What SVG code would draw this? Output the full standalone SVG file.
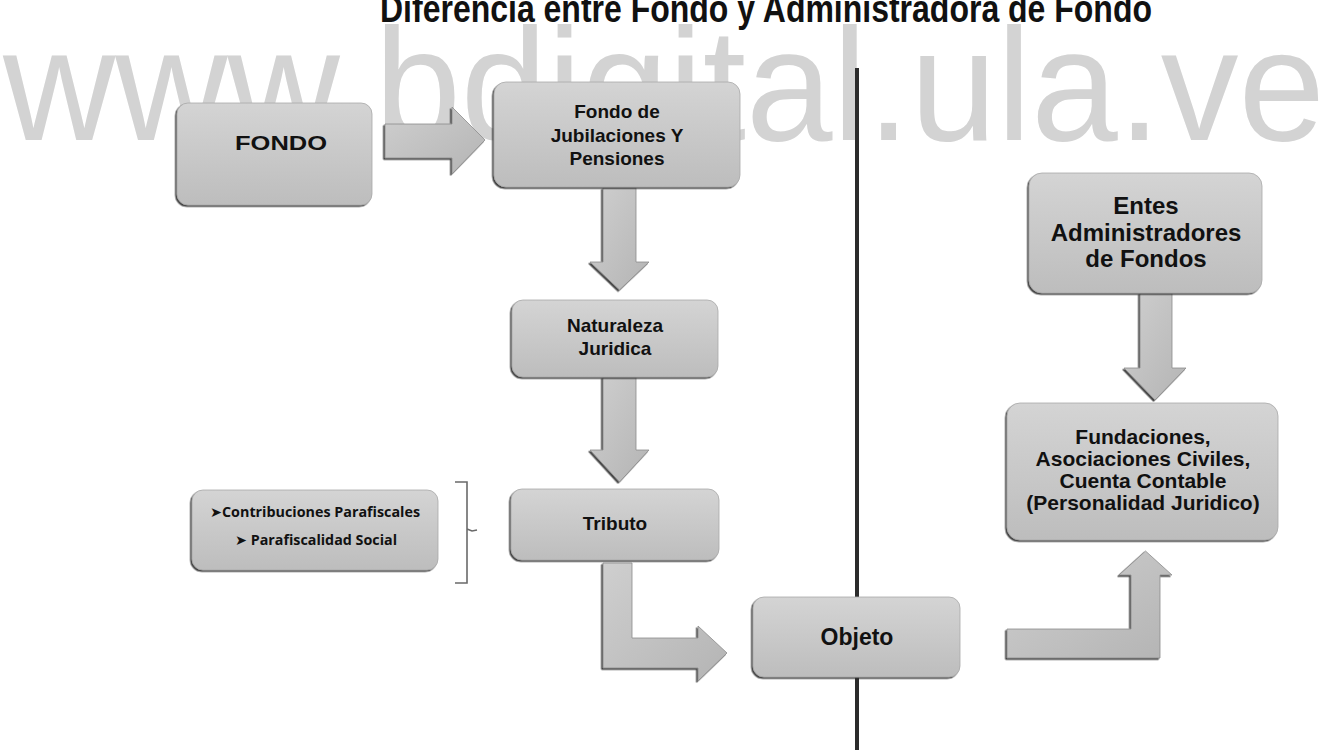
<svg xmlns="http://www.w3.org/2000/svg" width="1329" height="750" viewBox="0 0 1329 750">
<defs>
<linearGradient id="boxg" x1="0" y1="0" x2="0" y2="1">
<stop offset="0" stop-color="#d4d4d4"/>
<stop offset="1" stop-color="#bdbdbd"/>
</linearGradient>
<linearGradient id="arrg" x1="0" y1="0" x2="1" y2="1">
<stop offset="0" stop-color="#cfcfcf"/>
<stop offset="1" stop-color="#b4b4b4"/>
</linearGradient>
<filter id="edge" x="-5%" y="-5%" width="110%" height="115%">
<feDropShadow dx="-1.5" dy="1.5" stdDeviation="0.4" flood-color="#333" flood-opacity="0.9"/>
</filter>
</defs>
<style>
.box{fill:url(#boxg);stroke:#a8a8a8;stroke-width:0.8;filter:url(#edge)}
.arr{fill:url(#arrg);stroke:#8c8c8c;stroke-width:0.8;filter:url(#edge)}
.t{font-family:"Liberation Sans",Arial,sans-serif;font-weight:bold;fill:#111;text-anchor:middle}
.s{font-family:"Open Sans","DejaVu Sans",sans-serif;font-weight:bold;fill:#111;text-anchor:middle}
.wm{font-family:"Liberation Sans",Arial,sans-serif;fill:#d3d3d3}
.title{font-family:"Liberation Sans",Arial,sans-serif;font-weight:bold;fill:#111}
.brk{fill:none;stroke:#6a6a6a;stroke-width:1.6}
</style>
<rect width="1329" height="750" fill="#fff"/>
<text class="wm" x="3" y="140" font-size="160" textLength="1322" lengthAdjust="spacingAndGlyphs">www.bdigital.ula.ve</text>
<text class="title" x="380" y="22" font-size="38" textLength="772" lengthAdjust="spacingAndGlyphs">Diferencia entre Fondo y Administradora de Fondo</text>

<g id="connectors">
<line x1="857" y1="68" x2="857" y2="750" stroke="#2b2b2b" stroke-width="4"/>
<path class="arr" d="M385,124 L452,124 L452,107 L485,140 L452,174 L452,158 L385,158 Z"/>
<path class="arr" d="M603,188 L636,188 L636,262 L649,262 L619.5,290 L590,262 L603,262 Z"/>
<path class="arr" d="M603,377 L636,377 L636,450 L649,450 L619.5,482 L590,450 L603,450 Z"/>
<path class="arr" d="M603,563 L632,563 L632,638 L698,638 L698,626 L727,653 L698,681 L698,668 L603,668 Z"/>
<path class="arr" d="M1140,293 L1172,293 L1172,368 L1186,368 L1155,400 L1124,368 L1140,368 Z"/>
<path class="arr" d="M1007,629 L1131,629 L1131,575 L1119,575 L1145.5,551 L1172,575 L1160,575 L1160,658 L1007,658 Z"/>
<path class="brk" d="M455,482 L467,482 L467,583 L455,583 M467,529 L472,531 L477,530"/>
</g>

<g id="fondo">
<rect class="box" x="177" y="103" width="195" height="102" rx="11"/>
<text class="t" x="281" y="150" font-size="20" textLength="92" lengthAdjust="spacingAndGlyphs">FONDO</text>
</g>

<g id="fondo-jubilaciones">
<rect class="box" x="494" y="82" width="246" height="105" rx="12"/>
<text class="t" x="617" y="118" font-size="19">Fondo de</text>
<text class="t" x="617" y="142" font-size="19">Jubilaciones Y</text>
<text class="t" x="617" y="165" font-size="19">Pensiones</text>
</g>

<g id="naturaleza">
<rect class="box" x="512" y="300" width="206" height="77" rx="11"/>
<text class="t" x="615" y="332" font-size="19">Naturaleza</text>
<text class="t" x="615" y="355" font-size="19">Juridica</text>
</g>

<g id="tributo">
<rect class="box" x="511" y="489" width="208" height="71" rx="11"/>
<text class="t" x="615" y="530" font-size="19">Tributo</text>
</g>

<g id="contribuciones">
<rect class="box" x="192" y="490" width="246" height="80" rx="11"/>
<text class="s" x="315" y="517" font-size="14" textLength="210" lengthAdjust="spacingAndGlyphs">➤Contribuciones Parafiscales</text>
<text class="s" x="316" y="545" font-size="14" textLength="162" lengthAdjust="spacingAndGlyphs">➤ Parafiscalidad Social</text>
</g>

<g id="objeto">
<rect class="box" x="753" y="597" width="207" height="80" rx="11"/>
<text class="t" x="857" y="645" font-size="23">Objeto</text>
</g>

<g id="entes">
<rect class="box" x="1029" y="173" width="233" height="120" rx="13"/>
<text class="t" x="1146" y="214" font-size="24">Entes</text>
<text class="t" x="1146" y="241" font-size="24">Administradores</text>
<text class="t" x="1146" y="267" font-size="24">de Fondos</text>
</g>

<g id="fundaciones">
<rect class="box" x="1007" y="403" width="271" height="137" rx="13"/>
<text class="t" x="1143" y="444" font-size="21">Fundaciones,</text>
<text class="t" x="1143" y="466" font-size="21">Asociaciones Civiles,</text>
<text class="t" x="1143" y="488" font-size="21">Cuenta Contable</text>
<text class="t" x="1143" y="510" font-size="21">(Personalidad Juridico)</text>
</g>
</svg>
